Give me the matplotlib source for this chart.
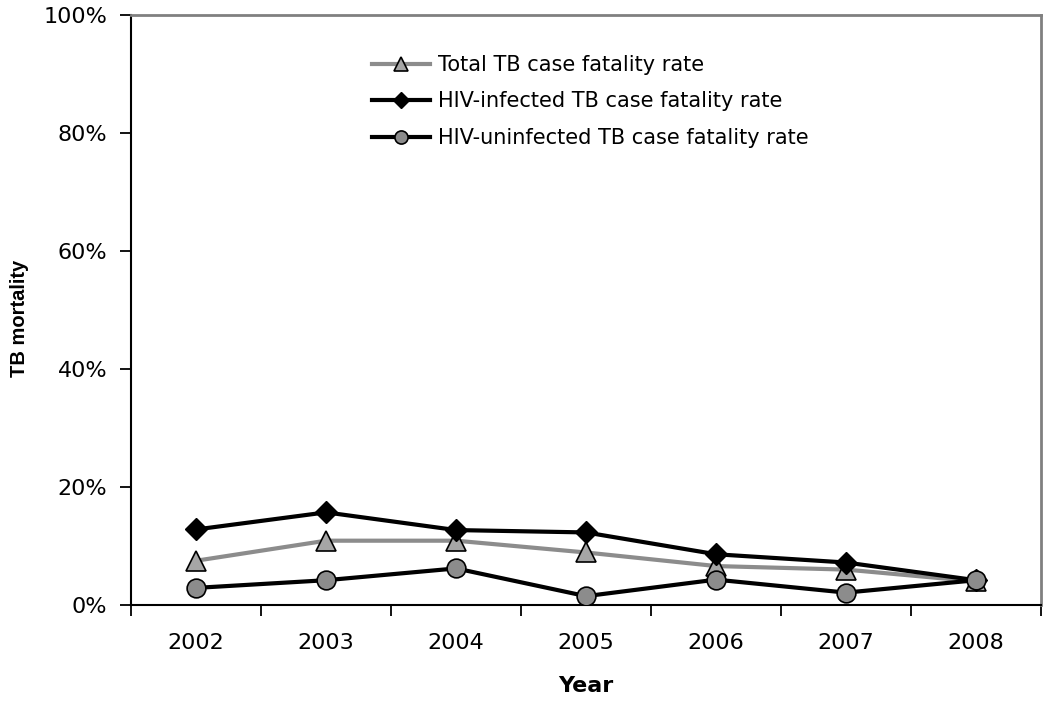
import matplotlib
matplotlib.use("Agg")
import matplotlib.pyplot as plt
from matplotlib.ticker import FixedLocator, PercentFormatter

years = ["2002", "2003", "2004", "2005", "2006", "2007", "2008"]
total_cfr = [7.5, 10.9, 10.9, 8.9, 6.6, 6.0, 4.0]
hiv_pos_cfr = [12.8, 15.7, 12.7, 12.3, 8.6, 7.2, 4.2]
hiv_neg_cfr = [2.9, 4.2, 6.2, 1.5, 4.3, 2.1, 4.2]

plt.rcParams['font.family'] = ['DejaVu Sans']

fig = plt.figure(figsize=(10.5, 7.04), dpi=100)
ax = fig.add_axes([131/1050, 1 - 605/704, (1041-131)/1050, (605-15)/704])

x = list(range(len(years)))
ax.plot(x, total_cfr, color='#8c8c8c', lw=3.0, marker='^', ms=14,
        mfc='#a6a6a6', mec='black', mew=1.2, label='Total TB case fatality rate', zorder=3)
ax.plot(x, hiv_pos_cfr, color='black', lw=3.0, marker='D', ms=11,
        mfc='black', mec='black', mew=1.0, label='HIV-infected TB case fatality rate', zorder=4)
ax.plot(x, hiv_neg_cfr, color='black', lw=3.0, marker='o', ms=13.5,
        mfc='#8c8c8c', mec='black', mew=1.2, label='HIV-uninfected TB case fatality rate', zorder=5)

ax.set_xlim(-0.5, len(years) - 0.5)
ax.set_ylim(0, 100)
ax.set_xticks(x)
ax.set_xticklabels(years, fontsize=16)
ax.xaxis.set_minor_locator(FixedLocator([i + 0.5 for i in range(-1, len(years))]))
ax.tick_params(axis='x', which='major', length=0, pad=20)
ax.tick_params(axis='x', which='minor', length=8, width=1.3, direction='out')
ax.set_yticks([0, 20, 40, 60, 80, 100])
ax.yaxis.set_major_formatter(PercentFormatter(decimals=0))
ax.tick_params(axis='y', length=8, width=1.3, direction='out', labelsize=16, pad=9)

ax.set_xlabel('Year', fontsize=16, fontweight='bold', labelpad=17)
ax.set_ylabel('TB mortality', fontsize=14.5, fontweight='bold',
              family=['Liberation Sans', 'DejaVu Sans'])
ax.yaxis.set_label_coords(-0.112, 0.485)

for s in ['left', 'bottom']:
    ax.spines[s].set_color('black')
    ax.spines[s].set_linewidth(1.5)
for s in ['top', 'right']:
    ax.spines[s].set_color('#808080')
    ax.spines[s].set_linewidth(2)

leg = ax.legend(loc='upper left', bbox_to_anchor=(0.244, 0.964), frameon=False,
                fontsize=15, handlelength=2.8, markerscale=0.7, labelspacing=0.79,
                handletextpad=0.4)

fig.savefig('out.png', dpi=100)
